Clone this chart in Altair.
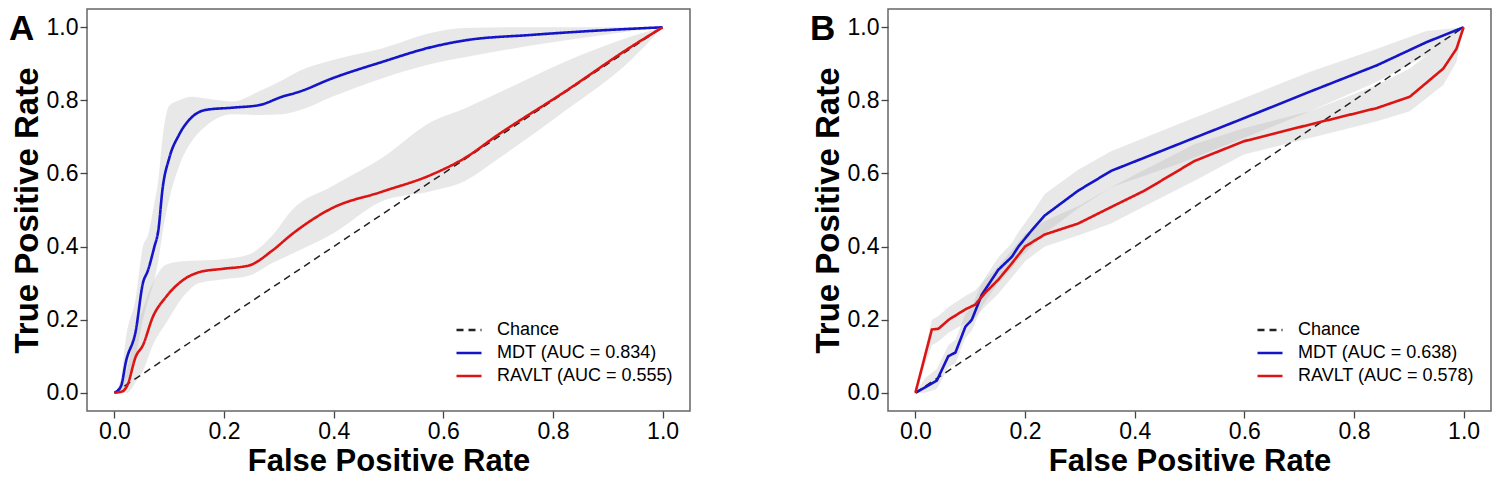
import altair as alt
import pandas as pd

# ---------------- data ----------------
ticks = [0.0, 0.2, 0.4, 0.6, 0.8, 1.0]
chance_x = [0.0, 1.0]
chance_y = [0.0, 1.0]

labels_A = ["Chance", "MDT (AUC = 0.834)", "RAVLT (AUC = 0.555)"]
labels_B = ["Chance", "MDT (AUC = 0.638)", "RAVLT (AUC = 0.578)"]

# Panel A - MDT
A_mdt_x = [0, 0.012, 0.021, 0.039, 0.052, 0.061, 0.073, 0.08, 0.088, 0.10, 0.118, 0.142,
           0.167, 0.215, 0.264, 0.306, 0.336, 0.397, 0.488, 0.579, 0.639, 0.76, 0.882, 1.0]
A_mdt_y = [0, 0.018, 0.085, 0.17, 0.30, 0.334, 0.40, 0.443, 0.56, 0.642, 0.706, 0.755,
           0.774, 0.78, 0.787, 0.81, 0.823, 0.86, 0.905, 0.946, 0.964, 0.979, 0.991, 1.0]
A_mdt_lo = [0, 0.0, 0.03, 0.10, 0.20, 0.25, 0.31, 0.36, 0.44, 0.53, 0.62, 0.69,
            0.73, 0.762, 0.76, 0.762, 0.772, 0.81, 0.86, 0.90, 0.918, 0.95, 0.977, 1.0]
A_mdt_hi = [0, 0.04, 0.15, 0.26, 0.40, 0.43, 0.52, 0.58, 0.70, 0.785, 0.80, 0.81,
            0.805, 0.797, 0.825, 0.855, 0.88, 0.91, 0.942, 0.985, 0.998, 1.0, 1.0, 1.0]

# Panel A - RAVLT
A_rav_x = [0, 0.015, 0.024, 0.039, 0.052, 0.07, 0.094, 0.124, 0.155, 0.197, 0.245,
           0.288, 0.324, 0.397, 0.488, 0.579, 0.639, 0.70, 0.821, 0.942, 1.0]
A_rav_y = [0, 0.004, 0.022, 0.099, 0.13, 0.207, 0.262, 0.307, 0.33, 0.339, 0.348,
           0.389, 0.434, 0.505, 0.55, 0.597, 0.642, 0.706, 0.823, 0.946, 1.0]
A_rav_lo = [0, 0.0, 0.0, 0.03, 0.06, 0.13, 0.19, 0.26, 0.30, 0.31, 0.32,
            0.355, 0.38, 0.434, 0.524, 0.552, 0.579, 0.64, 0.77, 0.91, 1.0]
A_rav_hi = [0, 0.03, 0.07, 0.17, 0.23, 0.30, 0.35, 0.36, 0.362, 0.365, 0.378,
            0.43, 0.50, 0.565, 0.642, 0.742, 0.778, 0.82, 0.905, 0.975, 1.0]

# Panel B - MDT
B_mdt_x = [0, 0.018, 0.039, 0.06, 0.073, 0.091, 0.103, 0.121, 0.151, 0.176, 0.188,
           0.212, 0.236, 0.297, 0.357, 0.478, 0.599, 0.72, 0.842, 0.932, 1.0]
B_mdt_y = [0, 0.015, 0.033, 0.10, 0.11, 0.18, 0.20, 0.268, 0.336, 0.372, 0.40,
           0.444, 0.485, 0.553, 0.607, 0.679, 0.751, 0.824, 0.896, 0.959, 1.0]
B_mdt_lo = [0, 0.0, 0.01, 0.07, 0.08, 0.15, 0.17, 0.235, 0.30, 0.34, 0.365,
            0.40, 0.436, 0.505, 0.562, 0.625, 0.697, 0.77, 0.851, 0.923, 1.0]
B_mdt_hi = [0, 0.04, 0.065, 0.13, 0.145, 0.215, 0.235, 0.30, 0.37, 0.41, 0.44,
            0.49, 0.544, 0.61, 0.661, 0.734, 0.806, 0.878, 0.941, 0.99, 1.0]

# Panel B - RAVLT
B_rav_x = [0, 0.030, 0.042, 0.061, 0.091, 0.109, 0.127, 0.151, 0.176, 0.20, 0.236,
           0.297, 0.357, 0.418, 0.509, 0.599, 0.72, 0.842, 0.902, 0.963, 0.987, 1.0]
B_rav_y = [0, 0.173, 0.175, 0.20, 0.228, 0.241, 0.273, 0.309, 0.354, 0.40, 0.433,
           0.463, 0.508, 0.553, 0.634, 0.688, 0.734, 0.779, 0.81, 0.887, 0.941, 1.0]
B_rav_lo = [0, 0.13, 0.14, 0.165, 0.19, 0.205, 0.235, 0.27, 0.315, 0.36, 0.40,
            0.43, 0.463, 0.51, 0.58, 0.652, 0.697, 0.743, 0.77, 0.842, 0.905, 1.0]
B_rav_hi = [0, 0.20, 0.21, 0.235, 0.265, 0.28, 0.31, 0.345, 0.39, 0.435, 0.47,
            0.51, 0.562, 0.61, 0.68, 0.724, 0.77, 0.842, 0.887, 0.959, 0.99, 1.0]

COLORS = ["#222222", "#1414c8", "#dc1414"]
DASHES = [[7, 5], [1, 0], [1, 0]]
FONT = "Liberation Sans"


def panel(letter, labels, curves, interp):
    line_rows, band_rows = [], []
    for xx, yy in zip(chance_x, chance_y):
        line_rows.append({"x": xx, "y": yy, "series": labels[0]})
    for lab, xs, ys, los, his in curves:
        for xx, yy, lo, hi in zip(xs, ys, los, his):
            line_rows.append({"x": xx, "y": yy, "series": lab})
            band_rows.append({"x": xx, "lo": lo, "hi": hi, "series": lab})
    lines = pd.DataFrame(line_rows)
    bands = pd.DataFrame(band_rows)

    xsc = alt.Scale(domain=[-0.05, 1.05], nice=False, zero=False)
    ysc = alt.Scale(domain=[-0.05, 1.05], nice=False, zero=False)
    xax = alt.Axis(values=ticks, format=".1f", title="False Positive Rate",
                   titleFontSize=31, titlePadding=3)
    yax = alt.Axis(values=ticks, format=".1f", title="True Positive Rate",
                   titleFontSize=33, titlePadding=2)
    X = alt.X("x:Q", scale=xsc, axis=xax)
    leg = alt.Legend(orient="none", legendX=368, legendY=307, title=None, labelLimit=0)
    col = alt.Color("series:N", scale=alt.Scale(domain=labels, range=COLORS), legend=leg)
    dash = alt.StrokeDash("series:N", scale=alt.Scale(domain=labels, range=DASHES), legend=leg)

    band = alt.Chart(bands).mark_area(color="#b2b2b2", opacity=0.3, interpolate=interp).encode(
        x=X, y=alt.Y("lo:Q", scale=ysc, axis=yax), y2="hi:Q", detail="series:N")
    chance = alt.Chart(lines[lines.series == labels[0]]).mark_line(strokeWidth=1.5).encode(
        x=X, y=alt.Y("y:Q", scale=ysc, axis=yax), color=col, strokeDash=dash)
    curv = alt.Chart(lines[lines.series != labels[0]]).mark_line(
        strokeWidth=2.6, interpolate=interp).encode(
        x=X, y=alt.Y("y:Q", scale=ysc, axis=yax), color=col, strokeDash=dash)
    lett = alt.Chart(pd.DataFrame({"t": [letter]})).mark_text(
        font=FONT, fontSize=35, fontWeight="bold", align="left", baseline="top",
        color="black").encode(text="t:N", x=alt.value(-78), y=alt.value(3))
    return alt.layer(band, chance, curv, lett).properties(width=603, height=402)


pA = panel("A", labels_A,
           [(labels_A[1], A_mdt_x, A_mdt_y, A_mdt_lo, A_mdt_hi),
            (labels_A[2], A_rav_x, A_rav_y, A_rav_lo, A_rav_hi)], "monotone")
pB = panel("B", labels_B,
           [(labels_B[1], B_mdt_x, B_mdt_y, B_mdt_lo, B_mdt_hi),
            (labels_B[2], B_rav_x, B_rav_y, B_rav_lo, B_rav_hi)], "linear")

chart = alt.hconcat(pA, pB, spacing=118).resolve_scale(
    color="independent", strokeDash="independent"
).resolve_legend(color="independent", strokeDash="independent").properties(
    padding=0
).configure_view(stroke="#666666", strokeWidth=1.5).configure_axis(
    grid=False, domain=False, tickColor="#444444", tickSize=7, tickWidth=1.3,
    labelFont=FONT, labelFontSize=23, labelColor="black", labelPadding=2,
    titleFont=FONT, titleFontWeight="bold", titleColor="black"
).configure_legend(
    symbolType="stroke", symbolSize=625, symbolStrokeWidth=2.6, labelFont=FONT,
    labelFontSize=18, labelColor="black", rowPadding=0, padding=0, labelOffset=14,
    labelLimit=0
)

chart.save("out.html", embed_options={"renderer": "svg", "actions": False})
